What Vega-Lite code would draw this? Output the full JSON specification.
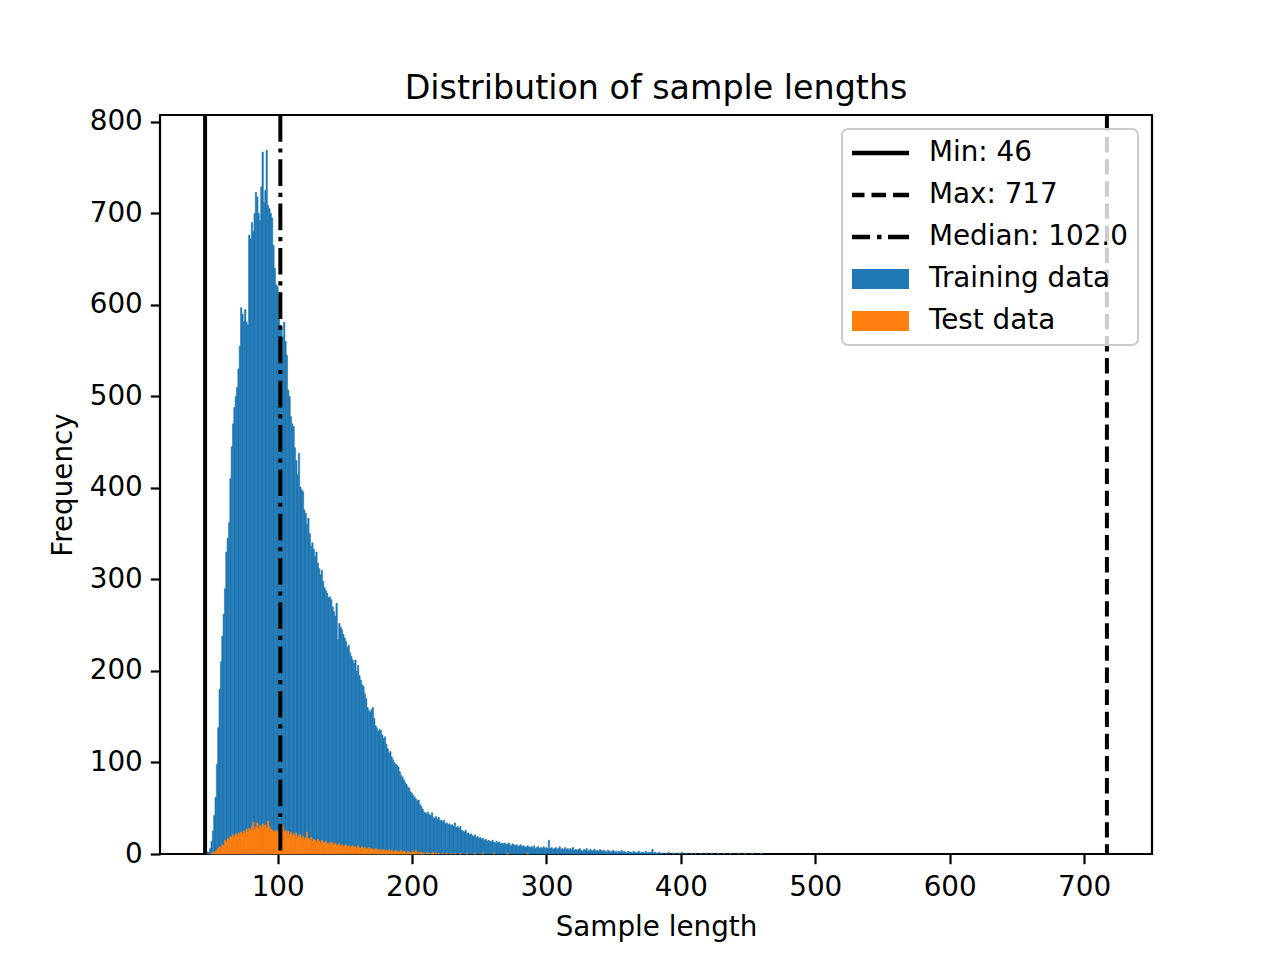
{
"$schema": "https://vega.github.io/schema/vega-lite/v6.json",
"width": 992, "height": 739,
"autosize": "none",
"padding": {"left": 160, "top": 115, "right": 128, "bottom": 106},
"background": "white",
"title": {"text": "Distribution of sample lengths", "fontSize": 33.3, "font": "DejaVu Sans", "fontWeight": "normal", "color": "black", "anchor": "middle", "baseline": "alphabetic", "offset": -24},
"config": {
  "view": {"stroke": "black", "strokeWidth": 2.2},
  "axis": {"domain": false, "grid": false, "labelFont": "DejaVu Sans", "labelFontSize": 27.8, "labelColor": "black", "tickColor": "black", "tickSize": 9.7, "tickWidth": 2.2, "labelPadding": 8, "titleFont": "DejaVu Sans", "titleFontSize": 27.8, "titleFontWeight": "normal", "titleColor": "black", "labelFlush": false, "labelOverlap": false},
  "axisX": {"labelPadding": 10},
  "legend": {"orient": "top-right", "offset": 14, "padding": 10, "fillColor": "rgba(255,255,255,0.8)", "strokeColor": "#cccccc", "strokeWidth": 2, "cornerRadius": 6, "labelFont": "DejaVu Sans", "labelFontSize": 27.8, "labelColor": "black", "labelLimit": 500, "symbolSize": 784, "symbolStrokeWidth": 0, "symbolOpacity": 1, "rowPadding": 14, "labelOffset": 49}
},
"datasets": {
"train": [
{"length":46,"count":1},{"length":47,"count":2},{"length":48,"count":2},{"length":49,"count":6},{"length":50,"count":14},{"length":51,"count":25},{"length":52,"count":42},{"length":53,"count":62},{"length":54,"count":98},{"length":55,"count":138},{"length":56,"count":180},{"length":57,"count":210},{"length":58,"count":238},{"length":59,"count":262},{"length":60,"count":290},{"length":61,"count":330},{"length":62,"count":345},{"length":63,"count":362},{"length":64,"count":410},{"length":65,"count":445},{"length":66,"count":470},{"length":67,"count":488},{"length":68,"count":500},{"length":69,"count":510},{"length":70,"count":530},{"length":71,"count":555},{"length":72,"count":597},{"length":73,"count":590},{"length":74,"count":582},{"length":75,"count":595},{"length":76,"count":581},{"length":77,"count":578},{"length":78,"count":676},{"length":79,"count":672},{"length":80,"count":690},{"length":81,"count":680},{"length":82,"count":700},{"length":83,"count":723},{"length":84,"count":718},{"length":85,"count":700},{"length":86,"count":692},{"length":87,"count":729},{"length":88,"count":767},{"length":89,"count":712},{"length":90,"count":725},{"length":91,"count":769},{"length":92,"count":709},{"length":93,"count":705},{"length":94,"count":700},{"length":95,"count":695},{"length":96,"count":665},{"length":97,"count":640},{"length":98,"count":622},{"length":99,"count":620},{"length":100,"count":585},{"length":101,"count":578},{"length":102,"count":575},{"length":103,"count":565},{"length":104,"count":581},{"length":105,"count":560},{"length":106,"count":545},{"length":107,"count":507},{"length":108,"count":500},{"length":109,"count":478},{"length":110,"count":470},{"length":111,"count":467},{"length":112,"count":444},{"length":113,"count":430},{"length":114,"count":415},{"length":115,"count":438},{"length":116,"count":401},{"length":117,"count":398},{"length":118,"count":396},{"length":119,"count":376},{"length":120,"count":372},{"length":121,"count":360},{"length":122,"count":367},{"length":123,"count":350},{"length":124,"count":336},{"length":125,"count":340},{"length":126,"count":333},{"length":127,"count":325},{"length":128,"count":330},{"length":129,"count":318},{"length":130,"count":312},{"length":131,"count":305},{"length":132,"count":310},{"length":133,"count":298},{"length":134,"count":291},{"length":135,"count":288},{"length":136,"count":285},{"length":137,"count":280},{"length":138,"count":281},{"length":139,"count":278},{"length":140,"count":270},{"length":141,"count":265},{"length":142,"count":260},{"length":143,"count":274},{"length":144,"count":234},{"length":145,"count":252},{"length":146,"count":248},{"length":147,"count":245},{"length":148,"count":240},{"length":149,"count":236},{"length":150,"count":232},{"length":151,"count":226},{"length":152,"count":228},{"length":153,"count":220},{"length":154,"count":216},{"length":155,"count":212},{"length":156,"count":208},{"length":157,"count":212},{"length":158,"count":200},{"length":159,"count":206},{"length":160,"count":195},{"length":161,"count":190},{"length":162,"count":185},{"length":163,"count":183},{"length":164,"count":175},{"length":165,"count":170},{"length":166,"count":160},{"length":167,"count":157},{"length":168,"count":155},{"length":169,"count":158},{"length":170,"count":160},{"length":171,"count":148},{"length":172,"count":140},{"length":173,"count":138},{"length":174,"count":134},{"length":175,"count":136},{"length":176,"count":135},{"length":177,"count":130},{"length":178,"count":126},{"length":179,"count":128},{"length":180,"count":120},{"length":181,"count":115},{"length":182,"count":110},{"length":183,"count":112},{"length":184,"count":106},{"length":185,"count":103},{"length":186,"count":100},{"length":187,"count":98},{"length":188,"count":97},{"length":189,"count":95},{"length":190,"count":90},{"length":191,"count":86},{"length":192,"count":84},{"length":193,"count":81},{"length":194,"count":78},{"length":195,"count":76},{"length":196,"count":73},{"length":197,"count":72},{"length":198,"count":68},{"length":199,"count":66},{"length":200,"count":64},{"length":201,"count":62},{"length":202,"count":60},{"length":203,"count":58},{"length":204,"count":59},{"length":205,"count":54},{"length":206,"count":52},{"length":207,"count":49},{"length":208,"count":46},{"length":209,"count":45},{"length":210,"count":44},{"length":211,"count":46},{"length":212,"count":43},{"length":213,"count":42},{"length":214,"count":45},{"length":215,"count":40},{"length":216,"count":39},{"length":217,"count":41},{"length":218,"count":38},{"length":219,"count":40},{"length":220,"count":36},{"length":221,"count":37},{"length":222,"count":35},{"length":223,"count":37},{"length":224,"count":33},{"length":225,"count":34},{"length":226,"count":32},{"length":227,"count":33},{"length":228,"count":31},{"length":229,"count":32},{"length":230,"count":30},{"length":231,"count":34},{"length":232,"count":29},{"length":233,"count":30},{"length":234,"count":28},{"length":235,"count":30},{"length":236,"count":26},{"length":237,"count":25},{"length":238,"count":24},{"length":239,"count":26},{"length":240,"count":22},{"length":241,"count":23},{"length":242,"count":21},{"length":243,"count":22},{"length":244,"count":20},{"length":245,"count":19},{"length":246,"count":21},{"length":247,"count":18},{"length":248,"count":19},{"length":249,"count":17},{"length":250,"count":18},{"length":251,"count":16},{"length":252,"count":17},{"length":253,"count":15},{"length":254,"count":16},{"length":255,"count":14},{"length":256,"count":15},{"length":257,"count":14},{"length":258,"count":13},{"length":259,"count":15},{"length":260,"count":13},{"length":261,"count":12},{"length":262,"count":14},{"length":263,"count":12},{"length":264,"count":13},{"length":265,"count":11},{"length":266,"count":12},{"length":267,"count":11},{"length":268,"count":12},{"length":269,"count":10},{"length":270,"count":11},{"length":271,"count":12},{"length":272,"count":10},{"length":273,"count":9},{"length":274,"count":11},{"length":275,"count":10},{"length":276,"count":9},{"length":277,"count":10},{"length":278,"count":8},{"length":279,"count":9},{"length":280,"count":10},{"length":281,"count":8},{"length":282,"count":9},{"length":283,"count":8},{"length":284,"count":7},{"length":285,"count":9},{"length":286,"count":8},{"length":287,"count":7},{"length":288,"count":8},{"length":289,"count":7},{"length":290,"count":9},{"length":291,"count":6},{"length":292,"count":7},{"length":293,"count":8},{"length":294,"count":6},{"length":295,"count":7},{"length":296,"count":6},{"length":297,"count":8},{"length":298,"count":6},{"length":299,"count":7},{"length":300,"count":6},{"length":301,"count":15},{"length":302,"count":6},{"length":303,"count":7},{"length":304,"count":5},{"length":305,"count":6},{"length":306,"count":7},{"length":307,"count":5},{"length":308,"count":6},{"length":309,"count":8},{"length":310,"count":5},{"length":311,"count":6},{"length":312,"count":5},{"length":313,"count":7},{"length":314,"count":5},{"length":315,"count":6},{"length":316,"count":4},{"length":317,"count":6},{"length":318,"count":5},{"length":319,"count":7},{"length":320,"count":4},{"length":321,"count":5},{"length":322,"count":4},{"length":323,"count":5},{"length":324,"count":6},{"length":325,"count":4},{"length":326,"count":3},{"length":327,"count":5},{"length":328,"count":4},{"length":329,"count":6},{"length":330,"count":3},{"length":331,"count":4},{"length":332,"count":5},{"length":333,"count":3},{"length":334,"count":4},{"length":335,"count":5},{"length":336,"count":3},{"length":337,"count":4},{"length":338,"count":3},{"length":339,"count":5},{"length":340,"count":4},{"length":341,"count":3},{"length":342,"count":4},{"length":343,"count":3},{"length":344,"count":2},{"length":345,"count":4},{"length":346,"count":3},{"length":347,"count":2},{"length":348,"count":3},{"length":349,"count":4},{"length":350,"count":2},{"length":351,"count":3},{"length":352,"count":2},{"length":353,"count":3},{"length":354,"count":2},{"length":355,"count":4},{"length":356,"count":2},{"length":357,"count":3},{"length":358,"count":2},{"length":359,"count":1},{"length":360,"count":3},{"length":361,"count":2},{"length":362,"count":2},{"length":363,"count":1},{"length":364,"count":3},{"length":365,"count":2},{"length":366,"count":1},{"length":367,"count":2},{"length":368,"count":3},{"length":369,"count":1},{"length":370,"count":2},{"length":371,"count":2},{"length":372,"count":1},{"length":373,"count":3},{"length":374,"count":1},{"length":375,"count":2},{"length":376,"count":1},{"length":377,"count":2},{"length":378,"count":5},{"length":379,"count":1},{"length":380,"count":2},{"length":381,"count":1},{"length":382,"count":1},{"length":383,"count":2},{"length":384,"count":1},{"length":385,"count":1},{"length":388,"count":1},{"length":390,"count":2},{"length":393,"count":1},{"length":395,"count":1},{"length":398,"count":1},{"length":400,"count":2},{"length":403,"count":1},{"length":407,"count":1},{"length":410,"count":1},{"length":414,"count":1},{"length":418,"count":1},{"length":422,"count":1},{"length":427,"count":1},{"length":431,"count":1},{"length":436,"count":1},{"length":442,"count":1},{"length":447,"count":1},{"length":452,"count":1},{"length":459,"count":1},{"length":717,"count":1}
],
"test": [
{"length":50,"count":1},{"length":51,"count":2},{"length":52,"count":2},{"length":53,"count":3},{"length":54,"count":4},{"length":55,"count":6},{"length":56,"count":8},{"length":57,"count":7},{"length":58,"count":10},{"length":59,"count":9},{"length":60,"count":15},{"length":61,"count":13},{"length":62,"count":17},{"length":63,"count":16},{"length":64,"count":19},{"length":65,"count":18},{"length":66,"count":21},{"length":67,"count":19},{"length":68,"count":22},{"length":69,"count":20},{"length":70,"count":23},{"length":71,"count":21},{"length":72,"count":24},{"length":73,"count":22},{"length":74,"count":25},{"length":75,"count":23},{"length":76,"count":27},{"length":77,"count":24},{"length":78,"count":28},{"length":79,"count":26},{"length":80,"count":30},{"length":81,"count":35},{"length":82,"count":27},{"length":83,"count":29},{"length":84,"count":34},{"length":85,"count":28},{"length":86,"count":31},{"length":87,"count":29},{"length":88,"count":33},{"length":89,"count":30},{"length":90,"count":32},{"length":91,"count":28},{"length":92,"count":36},{"length":93,"count":30},{"length":94,"count":27},{"length":95,"count":26},{"length":96,"count":25},{"length":97,"count":24},{"length":98,"count":26},{"length":99,"count":24},{"length":100,"count":25},{"length":101,"count":24},{"length":102,"count":33},{"length":103,"count":30},{"length":104,"count":24},{"length":105,"count":26},{"length":106,"count":22},{"length":107,"count":25},{"length":108,"count":21},{"length":109,"count":24},{"length":110,"count":20},{"length":111,"count":22},{"length":112,"count":19},{"length":113,"count":23},{"length":114,"count":18},{"length":115,"count":20},{"length":116,"count":21},{"length":117,"count":17},{"length":118,"count":19},{"length":119,"count":16},{"length":120,"count":18},{"length":121,"count":24},{"length":122,"count":17},{"length":123,"count":15},{"length":124,"count":18},{"length":125,"count":14},{"length":126,"count":16},{"length":127,"count":15},{"length":128,"count":13},{"length":129,"count":16},{"length":130,"count":14},{"length":131,"count":12},{"length":132,"count":15},{"length":133,"count":13},{"length":134,"count":12},{"length":135,"count":14},{"length":136,"count":11},{"length":137,"count":12},{"length":138,"count":10},{"length":139,"count":13},{"length":140,"count":11},{"length":141,"count":10},{"length":142,"count":12},{"length":143,"count":9},{"length":144,"count":10},{"length":145,"count":11},{"length":146,"count":9},{"length":147,"count":10},{"length":148,"count":8},{"length":149,"count":9},{"length":150,"count":10},{"length":151,"count":8},{"length":152,"count":9},{"length":153,"count":7},{"length":154,"count":8},{"length":155,"count":9},{"length":156,"count":7},{"length":157,"count":8},{"length":158,"count":6},{"length":159,"count":9},{"length":160,"count":7},{"length":161,"count":6},{"length":162,"count":8},{"length":163,"count":6},{"length":164,"count":7},{"length":165,"count":5},{"length":166,"count":6},{"length":167,"count":7},{"length":168,"count":5},{"length":169,"count":6},{"length":170,"count":5},{"length":171,"count":4},{"length":172,"count":6},{"length":173,"count":5},{"length":174,"count":4},{"length":175,"count":5},{"length":176,"count":3},{"length":177,"count":4},{"length":178,"count":5},{"length":179,"count":3},{"length":180,"count":4},{"length":181,"count":3},{"length":182,"count":5},{"length":183,"count":3},{"length":184,"count":4},{"length":185,"count":2},{"length":186,"count":3},{"length":187,"count":4},{"length":188,"count":2},{"length":189,"count":3},{"length":190,"count":2},{"length":191,"count":4},{"length":192,"count":2},{"length":193,"count":3},{"length":194,"count":2},{"length":195,"count":1},{"length":196,"count":3},{"length":197,"count":2},{"length":198,"count":1},{"length":199,"count":2},{"length":200,"count":3},{"length":201,"count":1},{"length":202,"count":4},{"length":203,"count":1},{"length":204,"count":2},{"length":205,"count":1},{"length":206,"count":2},{"length":207,"count":1},{"length":208,"count":1},{"length":210,"count":2},{"length":212,"count":1},{"length":214,"count":1},{"length":215,"count":2},{"length":217,"count":1},{"length":219,"count":1},{"length":222,"count":1},{"length":225,"count":1},{"length":228,"count":1},{"length":231,"count":1},{"length":235,"count":1},{"length":240,"count":1},{"length":246,"count":1},{"length":252,"count":1},{"length":260,"count":1},{"length":270,"count":1},{"length":285,"count":1}
],
"stats": [
{"label": "Min: 46", "value": 46},
{"label": "Max: 717", "value": 717},
{"label": "Median: 102.0", "value": 102}
],
"legendItems": [
{"label": "Min: 46"},
{"label": "Max: 717"},
{"label": "Median: 102.0"},
{"label": "Training data"},
{"label": "Test data"}
]
},
"layer": [
{
  "data": {"name": "train"},
  "mark": {"type": "bar", "color": "#1f77b4", "stroke": "#1f77b4", "strokeWidth": 0.6, "binSpacing": 0},
  "encoding": {
    "x": {"field": "length", "type": "quantitative", "bin": {"binned": true, "step": 1},
      "scale": {"domain": [12.45, 750.55], "nice": false, "zero": false},
      "axis": {"title": "Sample length", "values": [100, 200, 300, 400, 500, 600, 700], "titlePadding": 12}},
    "y": {"field": "count", "type": "quantitative",
      "scale": {"domain": [0, 807.5], "nice": false},
      "axis": {"title": "Frequency", "values": [0, 100, 200, 300, 400, 500, 600, 700, 800], "titlePadding": 12}}
  }
},
{
  "data": {"name": "test"},
  "mark": {"type": "bar", "color": "#ff7f0e", "stroke": "#ff7f0e", "strokeWidth": 0.6, "binSpacing": 0},
  "encoding": {
    "x": {"field": "length", "type": "quantitative", "bin": {"binned": true, "step": 1}},
    "y": {"field": "count", "type": "quantitative"}
  }
},
{
  "data": {"name": "stats"},
  "mark": {"type": "rule", "color": "black", "strokeWidth": 4},
  "encoding": {
    "x": {"field": "value", "type": "quantitative"},
    "strokeDash": {"field": "label", "type": "nominal",
      "scale": {"domain": ["Min: 46", "Max: 717", "Median: 102.0"], "range": [[1, 0], [15.4, 6.7], [26.7, 6.7, 4.2, 6.7]]},
      "legend": null}
  }
},
{
  "data": {"name": "legendItems"},
  "mark": {"type": "point", "filled": true, "opacity": 0},
  "encoding": {
    "color": {"field": "label", "type": "nominal",
      "scale": {"domain": ["Min: 46", "Max: 717", "Median: 102.0", "Training data", "Test data"], "range": ["#000000", "#000000", "#000000", "#1f77b4", "#ff7f0e"]},
      "legend": {"title": null}},
    "shape": {"field": "label", "type": "nominal",
      "scale": {"domain": ["Min: 46", "Max: 717", "Median: 102.0", "Training data", "Test data"],
        "range": [
          "M-1,-0.16H3.07V0.16H-1Z",
          "M-1,-0.16H-0.107V0.16H-1Z M0.393,-0.16H1.429V0.16H0.393Z M1.929,-0.16H3.07V0.16H1.929Z",
          "M-1,-0.16H0.286V0.16H-1Z M0.786,-0.16H1.107V0.16H0.786Z M1.571,-0.16H3.07V0.16H1.571Z",
          "M-1,-0.71H3.07V0.71H-1Z",
          "M-1,-0.71H3.07V0.71H-1Z"
        ]},
      "legend": {"title": null}}
  }
}
]
}
